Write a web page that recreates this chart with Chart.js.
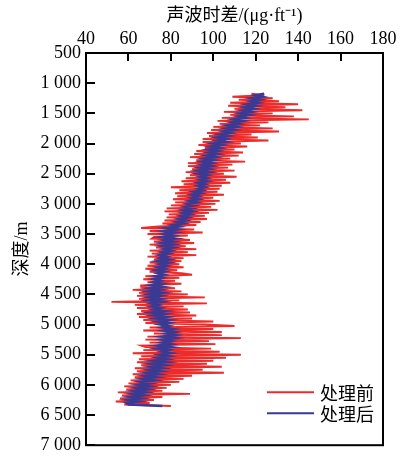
<!DOCTYPE html>
<html>
<head>
<meta charset="utf-8">
<script src="https://cdn.jsdelivr.net/npm/chart.js@4.4.1/dist/chart.umd.min.js"></script>
<style>
  html, body { margin: 0; padding: 0; background: #fff; }
  canvas { display: block; }
</style>
</head>
<body>
<canvas id="logChart" width="400" height="461"></canvas>
<script>
// depth samples (m)
const depth = [
    1175, 1200, 1225, 1250, 1275, 1300, 1325, 1350,
    1375, 1400, 1425, 1450, 1475, 1500, 1525, 1550,
    1575, 1600, 1625, 1650, 1675, 1700, 1725, 1750,
    1775, 1800, 1825, 1850, 1875, 1900, 1925, 1950,
    1975, 2000, 2025, 2050, 2075, 2100, 2125, 2150,
    2175, 2200, 2225, 2250, 2275, 2300, 2325, 2350,
    2375, 2400, 2425, 2450, 2475, 2500, 2525, 2550,
    2575, 2600, 2625, 2650, 2675, 2700, 2725, 2750,
    2775, 2800, 2825, 2850, 2875, 2900, 2925, 2950,
    2975, 3000, 3025, 3050, 3075, 3100, 3125, 3150,
    3175, 3200, 3225, 3250, 3275, 3300, 3325, 3350,
    3375, 3400, 3425, 3450, 3475, 3500, 3525, 3550,
    3575, 3600, 3625, 3650, 3675, 3700, 3725, 3750,
    3775, 3800, 3825, 3850, 3875, 3900, 3925, 3950,
    3975, 4000, 4025, 4050, 4075, 4100, 4125, 4150,
    4175, 4200, 4225, 4250, 4275, 4300, 4325, 4350,
    4375, 4400, 4425, 4450, 4475, 4500, 4525, 4550,
    4575, 4600, 4625, 4650, 4675, 4700, 4725, 4750,
    4775, 4800, 4825, 4850, 4875, 4900, 4925, 4950,
    4975, 5000, 5025, 5050, 5075, 5100, 5125, 5150,
    5175, 5200, 5225, 5250, 5275, 5300, 5325, 5350,
    5375, 5400, 5425, 5450, 5475, 5500, 5525, 5550,
    5575, 5600, 5625, 5650, 5675, 5700, 5725, 5750,
    5775, 5800, 5825, 5850, 5875, 5900, 5925, 5950,
    5975, 6000, 6025, 6050, 6075, 6100, 6125, 6150,
    6175, 6200, 6225, 6250, 6275, 6300, 6325, 6350
];

// 处理前 (raw sonic log)
const rawValues = [
    118, 124, 109, 128, 112, 131, 108, 140,
    107, 134, 110, 142, 105, 128, 108, 138,
    104, 145, 102, 126, 103, 122, 100, 128,
    99, 131, 97, 118, 98, 121, 95, 126,
    95, 113, 93, 116, 96, 110, 92, 114,
    91, 112, 89, 108, 92, 115, 88, 109,
    88, 107, 90, 110, 87, 105, 89, 111,
    87, 106, 85, 108, 86, 104, 80, 103,
    84, 102, 82, 105, 83, 100, 81, 103,
    82, 101, 80, 99, 78, 102, 77, 98,
    79, 96, 78, 97, 77, 94, 76, 92,
    74, 66, 91, 70, 95, 69, 88, 72,
    71, 89, 72, 91, 70, 87, 73, 92,
    70, 88, 71, 92, 69, 86, 72, 85,
    70, 84, 69, 86, 68, 83, 70, 85,
    90, 68, 84, 67, 82, 69, 85, 66,
    66, 82, 62, 85, 65, 88, 64, 96,
    65, 84, 52, 97, 63, 86, 64, 88,
    66, 89, 64, 92, 65, 90, 67, 100,
    68, 96, 110, 70, 100, 67, 104, 72,
    104, 69, 113, 68, 98, 70, 101, 66,
    68, 99, 67, 103, 62, 113, 66, 106,
    65, 100, 64, 97, 66, 104, 63, 95,
    64, 105, 62, 90, 63, 86, 61, 84,
    60, 80, 58, 78, 59, 76, 55, 89,
    57, 76, 56, 72, 54, 70, 58, 80
];

// 处理后 (filtered)
const filteredValues = [
    124, 120, 123, 118, 122, 118, 121, 116,
    120, 115, 119, 114, 118, 113, 117, 112,
    115, 110, 114, 109, 112, 107, 111, 106,
    110, 105, 108, 103, 107, 102, 106, 102,
    106, 100, 104, 99, 103, 98, 102, 98,
    102, 97, 101, 96, 100, 95, 99, 95,
    99, 94, 98, 93, 98, 93, 97, 94,
    97, 94, 97, 93, 96, 93, 96, 93,
    95, 91, 94, 90, 93, 90, 93, 89,
    92, 88, 91, 87, 90, 86, 90, 86,
    89, 85, 88, 84, 87, 83, 86, 81,
    84, 78, 83, 77, 82, 77, 81, 76,
    82, 77, 81, 76, 81, 76, 81, 77,
    80, 76, 79, 75, 78, 75, 79, 74,
    79, 75, 78, 74, 77, 73, 77, 74,
    77, 73, 76, 72, 75, 72, 76, 71,
    76, 70, 75, 70, 76, 70, 75, 70,
    75, 70, 76, 71, 74, 71, 75, 72,
    77, 71, 77, 72, 78, 73, 79, 74,
    79, 75, 79, 76, 81, 77, 82, 78,
    82, 76, 82, 76, 80, 76, 80, 74,
    80, 74, 79, 76, 80, 75, 79, 74,
    78, 72, 78, 71, 77, 71, 76, 70,
    75, 69, 74, 68, 73, 67, 72, 66,
    70, 65, 70, 64, 69, 63, 68, 62,
    67, 61, 66, 60, 65, 59, 60, 76
];

const seriesNames = ['处理前', '处理后'];
const xTicks = [40, 60, 80, 100, 120, 140, 160, 180];
const depthTicks = [500, 1000, 1500, 2000, 2500, 3000, 3500, 4000, 4500, 5000, 5500, 6000, 6500, 7000];

const RED = '#ee2b2b';
const BLUE = '#3a3a94';
const serif = '"Liberation Serif", "Noto Sans CJK SC", serif';
const cjk = '"Noto Sans CJK SC", "Liberation Serif", sans-serif';

function pairs(values) {
    return values.map((v, i) => ({ x: v, y: depth[i] }));
}

function spaced(v) {
    const s = String(v);
    return s.length > 3 ? s.slice(0, -3) + ' ' + s.slice(-3) : s;
}

// box, inward ticks and the legend inside the plot
const framePlugin = {
    id: 'frame',
    afterDatasetsDraw(chart) {
        const { ctx, chartArea: a, scales: { x, y } } = chart;
        ctx.save();
        ctx.strokeStyle = '#000';
        ctx.lineWidth = 2;
        ctx.strokeRect(a.left, a.top, a.width, a.height);
        ctx.beginPath();
        xTicks.forEach(v => {
            const px = Math.round(x.getPixelForValue(v));
            ctx.moveTo(px, a.top);
            ctx.lineTo(px, a.top + 8);
        });
        depthTicks.forEach(v => {
            const py = Math.round(y.getPixelForValue(v));
            ctx.moveTo(a.left, py);
            ctx.lineTo(a.left + 9, py);
        });
        ctx.stroke();

        const colors = [RED, BLUE];
        ctx.font = '18px ' + cjk;
        ctx.textBaseline = 'middle';
        ctx.fillStyle = '#000';
        seriesNames.forEach((name, i) => {
            const ly = a.bottom - 53 + i * 21;
            ctx.strokeStyle = colors[i];
            ctx.lineWidth = 2;
            ctx.beginPath();
            ctx.moveTo(a.right - 116, ly);
            ctx.lineTo(a.right - 69, ly);
            ctx.stroke();
            ctx.fillText(name, a.right - 63, ly + 1);
        });
        ctx.restore();
    }
};

const ctx = document.getElementById('logChart').getContext('2d');

const chart = new Chart(ctx, {
    type: 'scatter',
    data: {
        datasets: [
            {
                label: seriesNames[1],
                data: pairs(filteredValues),
                showLine: true,
                borderColor: BLUE,
                borderWidth: 2.6,
                pointRadius: 0,
                order: 1,
            },
            {
                label: seriesNames[0],
                data: pairs(rawValues),
                showLine: true,
                borderColor: RED,
                borderWidth: 1.9,
                pointRadius: 0,
                order: 2,
            },
        ],
    },
    options: {
        responsive: false,
        animation: false,
        devicePixelRatio: 1,
        layout: { padding: { left: 0, right: 17, top: 0, bottom: 12 } },
        plugins: {
            legend: { display: false },
            tooltip: { enabled: false },
        },
        scales: {
            x: {
                type: 'linear',
                position: 'top',
                min: 40,
                max: 180,
                afterBuildTicks: s => { s.ticks = xTicks.map(v => ({ value: v })); },
                ticks: { font: { family: serif, size: 18 }, color: '#000', padding: 3, maxRotation: 0 },
                grid: { display: false, drawTicks: false },
                border: { display: false },
                title: {
                    display: true,
                    text: '声波时差/(μg·ft⁻¹)',
                    font: { family: serif, size: 18 },
                    color: '#000',
                    padding: { top: 5, bottom: 0 },
                },
                afterFit: s => { s.height = 53; },
            },
            y: {
                type: 'linear',
                reverse: true,
                min: 500,
                max: 7000,
                afterBuildTicks: s => { s.ticks = depthTicks.map(v => ({ value: v })); },
                ticks: { font: { family: serif, size: 18 }, color: '#000', padding: 5, callback: v => spaced(v) },
                grid: { display: false, drawTicks: false },
                border: { display: false },
                title: {
                    display: true,
                    text: '深度/m',
                    font: { family: serif, size: 18 },
                    color: '#000',
                    padding: { top: 11, bottom: 0 },
                },
                afterFit: s => { s.width = 86; },
            },
        },
    },
    plugins: [framePlugin],
});
</script>
</body>
</html>
